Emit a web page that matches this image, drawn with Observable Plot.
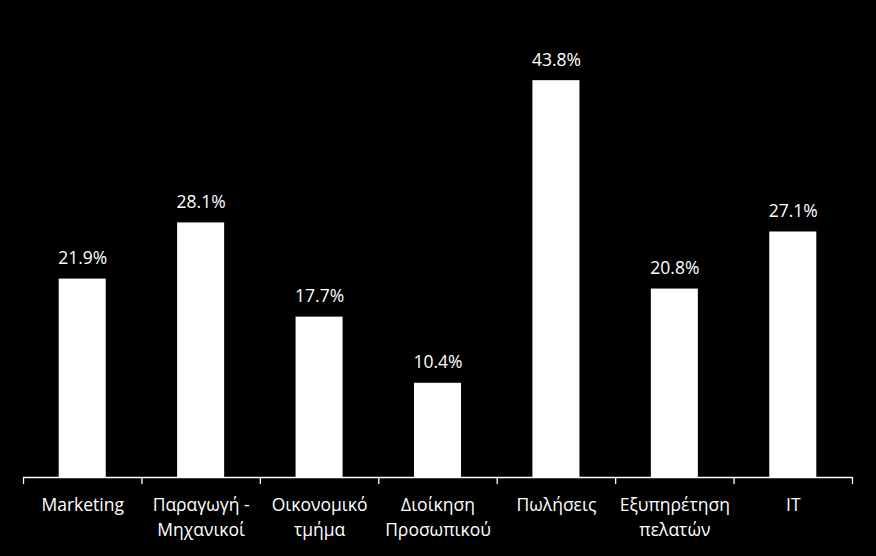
<!DOCTYPE html>
<html>
<head>
<meta charset="utf-8">
<script src="https://cdn.jsdelivr.net/npm/d3@7"></script>
<script src="https://cdn.jsdelivr.net/npm/@observablehq/plot@0.6"></script>
<style>
  html, body { margin: 0; padding: 0; background: #000; }
  #chart svg { display: block; }
</style>
</head>
<body>
<div id="chart"></div>
<script>
const categories = ["Marketing", "Παραγωγή -\nΜηχανικοί", "Οικονομικό\nτμήμα", "Διοίκηση\nΠροσωπικού", "Πωλήσεις", "Εξυπηρέτηση\nπελατών", "IT"];
const values = [21.9, 28.1, 17.7, 10.4, 43.8, 20.8, 27.1];
const valueLabels = ["21.9%", "28.1%", "17.7%", "10.4%", "43.8%", "20.8%", "27.1%"];

const data = categories.map((c, i) => ({i, category: c, value: values[i], label: valueLabels[i]}));
const boundaries = d3.range(categories.length + 1);

const fontSize = 17.5;
const chart = Plot.plot({
  width: 876,
  height: 556,
  marginLeft: 23,
  marginRight: 24,
  marginTop: 24,
  marginBottom: 79,
  style: {background: "#000", color: "#fff", fontFamily: "'Open Sans', sans-serif", fontSize: fontSize + "px"},
  x: {type: "linear", domain: [0, categories.length], axis: null, label: null},
  y: {type: "linear", domain: [0, 50], axis: null, label: null},
  marks: [
    Plot.rectY(data, {x1: "i", x2: d => d.i + 1, y: "value", fill: "#fff", insetLeft: 35.7, insetRight: 35.7}),
    Plot.ruleY([0], {stroke: "#fff", strokeWidth: 1.3}),
    Plot.axisX({ticks: boundaries, tickSize: 7, tickFormat: () => "", label: null, stroke: "#fff", strokeWidth: 1.3, strokeOpacity: 1}),
    Plot.text(data, {x: d => d.i + 0.5, y: "value", text: "label", fill: "#fff", lineAnchor: "bottom", dy: -15, fontSize: fontSize}),
    Plot.text(data, {x: d => d.i + 0.5, y: 0, text: "category", fill: "#fff", lineAnchor: "top", dy: 16, lineHeight: 1.42, fontSize: fontSize})
  ]
});
document.getElementById("chart").append(chart);
</script>
</body>
</html>
